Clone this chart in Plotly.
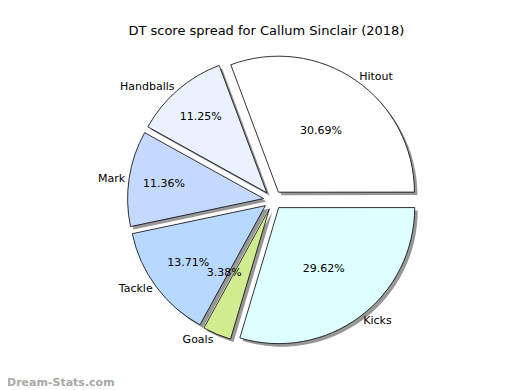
import plotly.graph_objects as go

labels = ["Hitout", "Handballs", "Mark", "Tackle", "Goals", "Kicks"]
values = [30.69, 11.25, 11.36, 13.71, 3.38, 29.62]
colors = ["#FFFFFF", "#EAF1FF", "#C5D9FF", "#B8D9FF", "#D1EC8E", "#DDFFFF"]
title = "DT score spread for Callum Sinclair (2018)"

W, H = 520, 390
cx, cy, R, pull = 265, 192, 136, 0.07
half = R * (1 + pull)

def dom(dx=0, dy=0, r=half):
    x0 = (cx + dx - r) / W
    x1 = (cx + dx + r) / W
    y0 = 1 - (cy + dy + r) / H
    y1 = 1 - (cy + dy - r) / H
    return dict(x=[x0, x1], y=[y0, y1])

common = dict(labels=labels, values=values, sort=False, direction="counterclockwise",
              rotation=-20.5, pull=[pull] * len(values), hoverinfo="skip")

small_goal = values.index(min(values))
pct_big = ["" if i == small_goal else "%{percent:.2%}" for i in range(len(values))]
pct_small = ["%{percent:.2%}" if i == small_goal else "" for i in range(len(values))]

fig = go.Figure()
# shadow
fig.add_trace(go.Pie(**common, domain=dom(3, 3), textinfo="none",
                     marker=dict(colors=["#858585"] * 6, line=dict(width=0)), opacity=0.85))
# main slices with percentages
fig.add_trace(go.Pie(**common, domain=dom(), texttemplate=pct_big, textposition="inside",
                     insidetextorientation="horizontal",
                     textfont=dict(family="DejaVu Sans", size=11, color="black"),
                     marker=dict(colors=colors, line=dict(color="black", width=0.8))))
# percentage for the thin slice (drawn outside a small hidden pie so it is not shrunk)
fig.add_trace(go.Pie(**common, domain=dom(r=half * 0.5), texttemplate=pct_small, textposition="outside",
                     textfont=dict(family="DejaVu Sans", size=11, color="black"),
                     marker=dict(colors=["rgba(0,0,0,0)"] * 6, line=dict(width=0))))
# outside labels
fig.add_trace(go.Pie(**common, domain=dom(), texttemplate="%{label}", textposition="outside",
                     textfont=dict(family="DejaVu Sans", size=11, color="black"),
                     marker=dict(colors=["rgba(0,0,0,0)"] * 6, line=dict(width=0))))

fig.update_layout(
    width=W, height=H, showlegend=False,
    margin=dict(l=0, r=0, t=0, b=0),
    paper_bgcolor="white", plot_bgcolor="white",
    title=dict(text=title, x=0.497, xanchor="center", y=1 - 22 / H, yanchor="middle",
               font=dict(family="DejaVu Sans", size=13, color="black")),
    annotations=[dict(text="<b>Dream-Stats.com</b>", x=0, y=7 / H, xref="paper", yref="paper",
                      xanchor="left", yanchor="bottom", showarrow=False, xshift=-3,
                      font=dict(family="DejaVu Sans", size=11, color="#a8a8a8"))],
)
fig.write_html("out.html")
